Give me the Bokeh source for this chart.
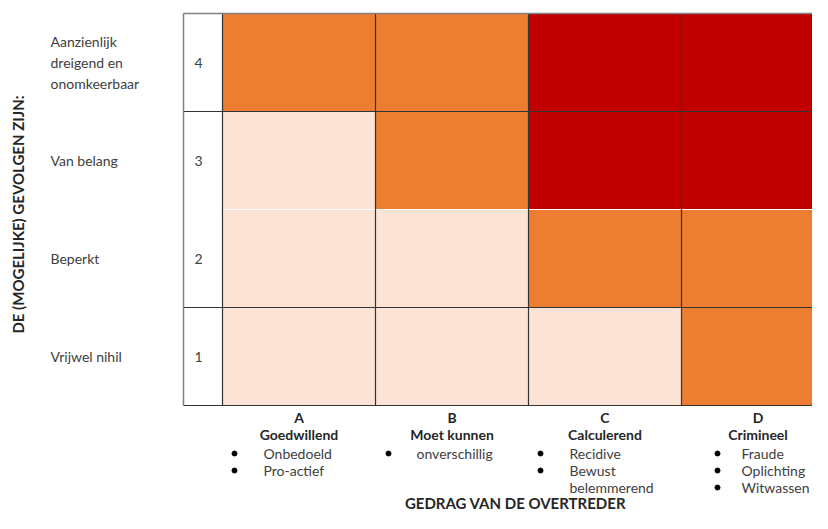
import numpy as np
from bokeh.plotting import figure
from bokeh.models import Range1d, ColumnDataSource
from bokeh.core.properties import value
from bokeh.embed import file_html
from bokeh.resources import INLINE

# ---------------- data ----------------
levels = [1, 2, 3, 4]
level_labels = ["Vrijwel nihil", "Beperkt", "Van belang",
                "Aanzienlijk\ndreigend en\nonomkeerbaar"]
behaviour_letters = ["A", "B", "C", "D"]
behaviour_names = ["Goedwillend", "Moet kunnen", "Calculerend", "Crimineel"]
behaviour_examples = [["Onbedoeld", "Pro-actief"],
                      ["onverschillig"],
                      ["Recidive", "Bewust\nbelemmerend"],
                      ["Fraude", "Oplichting", "Witwassen"]]
# risk class per level (rows 1..4) and behaviour (A..D): 1 = laag, 2 = midden, 3 = hoog
risk_class = [[1, 1, 1, 2],
              [1, 1, 2, 2],
              [1, 2, 3, 3],
              [2, 2, 3, 3]]
y_title = "DE (MOGELIJKE) GEVOLGEN ZIJN:"
x_title = "GEDRAG VAN DE OVERTREDER"

# ---------------- layout / style ----------------
class_colors = {1: "#FBE4D5", 2: "#ED7D31", 3: "#C00000"}
FONT = "Lato"
W, H = 812, 513
COL_PX = 153.0
ROW_PX = 98.0
GRID_LEFT_PX = 222.0
GRID_BOTTOM_PX = 405.0
x_start = 0.5 - GRID_LEFT_PX / COL_PX
x_end = x_start + W / COL_PX
y_end = 0.5 + GRID_BOTTOM_PX / ROW_PX
y_start = y_end - H / ROW_PX

def fx(px):
    return x_start + px / COL_PX

def fy(py):
    return y_end - py / ROW_PX

num_w = 39.0 / COL_PX
num_left = 0.5 - num_w
num_center = 0.5 - num_w / 2

p = figure(width=W, height=H, x_range=Range1d(x_start, x_end),
           y_range=Range1d(y_start, y_end), x_axis_type=None, y_axis_type=None,
           output_backend="svg", toolbar_location=None, min_border=0)
p.outline_line_color = None
p.background_fill_color = "white"
p.border_fill_color = "white"

# cells
cx, cy, cc = [], [], []
for li, lev in enumerate(levels):
    for bi in range(len(behaviour_letters)):
        cx.append(bi + 1)
        cy.append(lev)
        cc.append(class_colors[risk_class[li][bi]])
p.rect(x="x", y="y", width=1, height=1, fill_color="c", line_color="white",
       line_width=1, source=ColumnDataSource(dict(x=cx, y=cy, c=cc)))

# number column
p.rect(x=[num_center] * len(levels), y=levels, width=num_w, height=1,
       fill_color="white", line_color=None)

# grid lines
n_b = len(behaviour_letters)
vx = [0.5 + i for i in range(n_b)]
p.segment(x0=vx, y0=[0.5] * len(vx), x1=vx, y1=[len(levels) + 0.5] * len(vx),
          line_color="#333333", line_width=1.2)
hy = [0.5, 1.5, 3.5]
p.segment(x0=[num_left] * len(hy), y0=hy, x1=[n_b + 0.5] * len(hy), y1=hy,
          line_color="#333333", line_width=1.2)
p.segment(x0=[num_left, num_left], y0=[0.5, len(levels) + 0.5],
          x1=[num_left, n_b + 0.5], y1=[len(levels) + 0.5, len(levels) + 0.5],
          line_color="#808080", line_width=1.5)

# left labels and numbers
p.text(x=[fx(50)] * len(levels), y=levels, text=level_labels,
       text_font=value(FONT), text_font_size="14px", text_color="#404040",
       text_align="left", text_baseline="middle", text_line_height=1.25)
p.text(x=[num_left + 11 / COL_PX] * len(levels), y=levels,
       text=[str(l) for l in levels],
       text_font=value(FONT), text_font_size="14px", text_color="#404040",
       text_align="left", text_baseline="middle")

# bottom headers
bx = [i + 1 for i in range(n_b)]
p.text(x=bx, y=[fy(417)] * n_b, text=behaviour_letters, text_font=value(FONT),
       text_font_size="14px", text_font_style="bold", text_color="#262626",
       text_align="center", text_baseline="middle")
p.text(x=bx, y=[fy(434)] * n_b, text=behaviour_names, text_font=value(FONT),
       text_font_size="14px", text_font_style="bold", text_color="#262626",
       text_align="center", text_baseline="middle")

# bullet lists
dot_off = [12, 13, 12, 36]
txt_off = [41, 41, 41, 60]
line_y = [453, 470, 487]
dx, dy, tx, ty, tt = [], [], [], [], []
for bi, items in enumerate(behaviour_examples):
    col_left = bi + 0.5
    k = 0
    for item in items:
        for j, line in enumerate(item.split("\n")):
            if j == 0:
                dx.append(col_left + dot_off[bi] / COL_PX)
                dy.append(fy(line_y[k]))
            tx.append(col_left + txt_off[bi] / COL_PX)
            ty.append(fy(line_y[k]))
            tt.append(line)
            k += 1
p.scatter(x=dx, y=dy, marker="circle", size=5, color="#000000")
p.text(x=tx, y=ty, text=tt, text_font=value(FONT), text_font_size="14px",
       text_color="#404040", text_align="left", text_baseline="middle")

# axis titles
p.text(x=[fx(515)], y=[fy(502)], text=[x_title], text_font=value(FONT),
       text_font_size="15px", text_font_style="bold", text_color="#262626",
       text_align="center", text_baseline="middle")
p.text(x=[fx(17)], y=[fy(214)], text=[y_title], text_font=value(FONT),
       text_font_size="15px", text_font_style="bold", text_color="#262626",
       text_align="center", text_baseline="middle", angle=np.pi / 2)

open("out.html", "w").write(file_html(p, INLINE))
